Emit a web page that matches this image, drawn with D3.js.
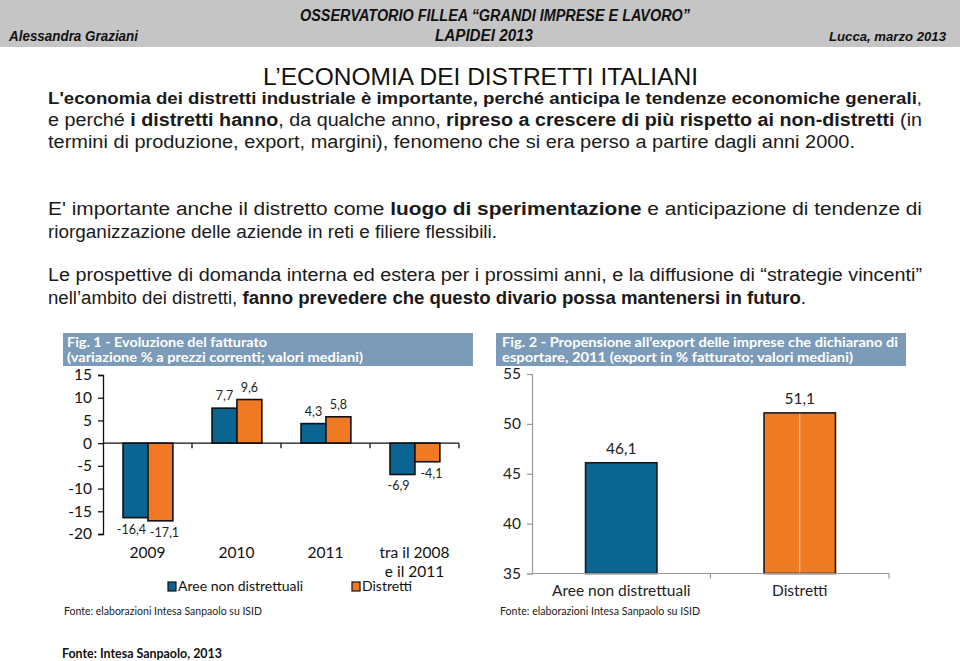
<!DOCTYPE html>
<html><head><meta charset="utf-8">
<script src="https://cdn.jsdelivr.net/npm/d3@7"></script>
<style>html,body{margin:0;padding:0;background:#fff;}svg{display:block;}</style>
</head><body>
<script>
// ---- data ----
const fig1Categories = ["2009", "2010", "2011", "tra il 2008|e il 2011"];
const fig1Series = ["Aree non distrettuali", "Distretti"];
const fig1NonDistretti = [-16.4, 7.7, 4.3, -6.9];
const fig1Distretti = [-17.1, 9.6, 5.8, -4.1];
const fig1Ticks = [15, 10, 5, 0, -5, -10, -15, -20];

const fig2Categories = ["Aree non distrettuali", "Distretti"];
const fig2Values = [46.1, 51.1];
const fig2Ticks = [55, 50, 45, 40, 35];

const W = 960, H = 661;
const BLUE = "#0b6592", ORANGE = "#f07a24", BAND = "#7c9bb8";
const fmt = v => v.toFixed(1).replace(".", ",");

const svg = d3.select("body").append("svg").attr("width", W).attr("height", H);

// ---- header ----
svg.append("rect").attr("x", 0).attr("y", 0).attr("width", W).attr("height", 47).attr("fill", "#c5c5c5");
const hdrFont = "'Liberation Sans Narrow','Liberation Sans',Arial,sans-serif";
function htext(txt, x, y, len, size, anchor) {
  svg.append("text").attr("x", x).attr("y", y).attr("text-anchor", anchor || "start")
    .attr("font-family", hdrFont).attr("font-weight", "bold").attr("font-style", "italic")
    .attr("font-size", size).attr("fill", "#111")
    .attr("textLength", len).attr("lengthAdjust", "spacingAndGlyphs").text(txt);
}
htext("OSSERVATORIO FILLEA \u201cGRANDI IMPRESE E LAVORO\u201d", 300, 21, 390, 16);
htext("LAPIDEI 2013", 435, 41, 98, 16);
htext("Alessandra Graziani", 9, 41, 129, 14);
htext("Lucca, marzo 2013", 946, 41, 117, 13, "end");

// ---- title & paragraphs ----
svg.append("text").attr("x", 263).attr("y", 85).attr("font-family", hdrFont).attr("font-size", 24)
  .attr("fill", "#111").attr("textLength", 435).attr("lengthAdjust", "spacingAndGlyphs")
  .text("L\u2019ECONOMIA DEI DISTRETTI ITALIANI");

const paraLines = [
  {y: 104, len: 874, parts: [["L'economia dei distretti industriale è importante, perché anticipa le tendenze economiche generali", 1], [",", 0]]},
  {y: 126, len: 874, parts: [["e perché ", 0], ["i distretti hanno", 1], [", da qualche anno, ", 0], ["ripreso a crescere  di più rispetto ai non-distretti", 1], [" (in", 0]]},
  {y: 148, len: 807, parts: [["termini di produzione, export, margini), fenomeno che si era perso a partire dagli anni 2000.", 0]]},
  {y: 215, len: 874, parts: [["E' importante anche il distretto come ", 0], ["luogo di sperimentazione", 1], [" e anticipazione di tendenze di", 0]]},
  {y: 238, len: 449, parts: [["riorganizzazione delle aziende in reti e filiere flessibili.", 0]]},
  {y: 281, len: 874, parts: [["Le prospettive di domanda interna ed estera per i prossimi anni, e la diffusione di \u201cstrategie vincenti\u201d", 0]]},
  {y: 304, len: 758, parts: [["nell\u2019ambito dei distretti, ", 0], ["fanno prevedere  che questo divario possa mantenersi in futuro", 1], [".", 0]]}
];
paraLines.forEach((l, i) => {
  const t = svg.append("text").attr("x", 48).attr("y", l.y).attr("font-family", hdrFont)
    .attr("font-size", i === 0 ? 16.5 : 18).attr("fill", "#1a1a1a")
    .attr("textLength", l.len).attr("lengthAdjust", "spacingAndGlyphs");
  l.parts.forEach(p => t.append("tspan").attr("font-weight", p[1] ? "bold" : "normal").text(p[0]));
});

// ---- chart fonts ----
const cFont = "Lato,'Open Sans',sans-serif";

function titleBand(x, y, w, h, lines) {
  svg.append("rect").attr("x", x).attr("y", y).attr("width", w).attr("height", h).attr("fill", BAND);
  lines.forEach((l, i) => {
    svg.append("text").attr("x", x + l.dx).attr("y", y + 13.5 + i * 15.5).attr("font-family", cFont)
      .attr("font-weight", "bold").attr("font-size", 13).attr("fill", "#fff")
      .attr("textLength", l.len).attr("lengthAdjust", "spacingAndGlyphs").text(l.t);
  });
}

// ================= Fig. 1 =================
titleBand(63, 333, 410, 33, [
  {t: "Fig. 1 - Evoluzione del fatturato", dx: 4, len: 200},
  {t: "(variazione % a prezzi correnti; valori mediani)", dx: 4, len: 296}
]);

const y1 = d3.scaleLinear().domain([-20, 15]).range([534, 375]);
const x0 = d3.scaleBand().domain(fig1Categories).range([103, 459]).padding(0);
const x1 = d3.scaleBand().domain(fig1Series).range([x0.bandwidth() * 0.225, x0.bandwidth() * 0.785]);
const fig1Data = fig1Categories.map((c, i) => ({cat: c, vals: [fig1NonDistretti[i], fig1Distretti[i]]}));

const g1 = svg.append("g");
// y axis
const ax1 = g1.append("g").attr("transform", "translate(103,0)")
  .call(d3.axisLeft(y1).tickValues(fig1Ticks).tickSize(5).tickPadding(6).tickFormat(d => d));
ax1.selectAll("path,line").attr("stroke", "#111").attr("stroke-width", 1.3);
ax1.selectAll("text").attr("font-family", cFont).attr("font-size", 15.5).attr("fill", "#111");

// bars
const cols = [BLUE, ORANGE];
fig1Data.forEach(d => {
  d.vals.forEach((v, j) => {
    const bx = x0(d.cat) + x1(fig1Series[j]);
    g1.append("rect").attr("x", bx).attr("y", y1(Math.max(0, v)))
      .attr("width", x1.bandwidth()).attr("height", Math.abs(y1(v) - y1(0)))
      .attr("fill", cols[j]).attr("stroke", "#111").attr("stroke-width", 1.6);
    const shift = v < 0 ? (j === 0 ? -4 : 4) : 0;
    g1.append("text").attr("x", bx + x1.bandwidth() / 2 + shift)
      .attr("y", v >= 0 ? y1(v) - 8 : y1(v) + 16)
      .attr("text-anchor", "middle").attr("font-family", cFont).attr("font-size", 12.5).attr("fill", "#222")
      .text(fmt(v));
  });
});
// zero line with category ticks
g1.append("line").attr("x1", x0.range()[0]).attr("x2", x0.range()[1]).attr("y1", y1(0)).attr("y2", y1(0))
  .attr("stroke", "#111").attr("stroke-width", 1.3);
fig1Categories.forEach(c => {
  const tx = x0(c) + x0.step();
  g1.append("line").attr("x1", tx).attr("x2", tx).attr("y1", y1(0)).attr("y2", y1(0) + 5)
    .attr("stroke", "#111").attr("stroke-width", 1.3);
});
// category labels
fig1Categories.forEach(c => {
  c.split("|").forEach((s, k) => {
    g1.append("text").attr("x", x0(c) + x0.bandwidth() / 2).attr("y", 558 + k * 19)
      .attr("text-anchor", "middle").attr("font-family", cFont).attr("font-size", 15.5).attr("fill", "#111").text(s);
  });
});
// legend
const legX = [168, 352];
fig1Series.forEach((s, j) => {
  g1.append("rect").attr("x", legX[j]).attr("y", 582).attr("width", 8).attr("height", 9)
    .attr("fill", cols[j]).attr("stroke", "#111").attr("stroke-width", 1.2);
  g1.append("text").attr("x", legX[j] + 10).attr("y", 591).attr("font-family", cFont)
    .attr("font-size", 14).attr("fill", "#111").text(s);
});
g1.append("text").attr("x", 64).attr("y", 615).attr("font-family", cFont).attr("font-size", 11)
  .attr("fill", "#222").attr("textLength", 198).attr("lengthAdjust", "spacingAndGlyphs")
  .text("Fonte: elaborazioni Intesa Sanpaolo su ISID");

// ================= Fig. 2 =================
titleBand(496, 333, 410, 33, [
  {t: "Fig. 2 - Propensione all\u2019export delle imprese che dichiarano di", dx: 6, len: 396},
  {t: "esportare, 2011 (export in % fatturato; valori mediani)", dx: 6, len: 351}
]);

const y2 = d3.scaleLinear().domain([35, 55]).range([573.5, 374]);
const x2 = d3.scaleBand().domain(fig2Categories).range([532, 889]).paddingInner(0.6).paddingOuter(0.3);
const g2 = svg.append("g");
const ax2 = g2.append("g").attr("transform", "translate(532,0)")
  .call(d3.axisLeft(y2).tickValues(fig2Ticks).tickSize(5).tickPadding(6).tickFormat(d => d));
ax2.selectAll("path,line").attr("stroke", "#999").attr("stroke-width", 1.2);
ax2.selectAll("text").attr("font-family", cFont).attr("font-size", 15.5).attr("fill", "#222");

fig2Categories.forEach((c, i) => {
  const v = fig2Values[i];
  g2.append("rect").attr("x", x2(c)).attr("y", y2(v)).attr("width", x2.bandwidth())
    .attr("height", y2(35) - y2(v)).attr("fill", cols[i]).attr("stroke", "#1a1a1a").attr("stroke-width", 1.6);
  g2.append("text").attr("x", x2(c) + x2.bandwidth() / 2).attr("y", y2(v) - 9)
    .attr("text-anchor", "middle").attr("font-family", cFont).attr("font-size", 15.5).attr("fill", "#222").text(fmt(v));
  g2.append("text").attr("x", x2(c) + x2.bandwidth() / 2).attr("y", 596)
    .attr("text-anchor", "middle").attr("font-family", cFont).attr("font-size", 15.5).attr("fill", "#222").text(c);
});
// faint line in middle of orange bar
{
  const c = fig2Categories[1];
  const mx = x2(c) + x2.bandwidth() / 2;
  g2.append("line").attr("x1", mx).attr("x2", mx).attr("y1", y2(fig2Values[1]) + 1).attr("y2", y2(35) - 1)
    .attr("stroke", "#f8d2b4").attr("stroke-width", 1);
}
// x axis
g2.append("line").attr("x1", x2.range()[0]).attr("x2", x2.range()[1]).attr("y1", y2(35)).attr("y2", y2(35))
  .attr("stroke", "#999").attr("stroke-width", 1.2);
fig2Categories.forEach(c => {
  const tx = x2(c) + x2.bandwidth() / 2 + x2.step() / 2;
  g2.append("line").attr("x1", tx).attr("x2", tx).attr("y1", y2(35)).attr("y2", y2(35) + 5)
    .attr("stroke", "#999").attr("stroke-width", 1.2);
});
g2.append("text").attr("x", 500).attr("y", 615).attr("font-family", cFont).attr("font-size", 11)
  .attr("fill", "#222").attr("textLength", 200).attr("lengthAdjust", "spacingAndGlyphs")
  .text("Fonte: elaborazioni Intesa Sanpaolo su ISID");

// footer
svg.append("text").attr("x", 62).attr("y", 658).attr("font-family", cFont).attr("font-weight", "bold")
  .attr("font-size", 13).attr("fill", "#111").attr("textLength", 160).attr("lengthAdjust", "spacingAndGlyphs")
  .text("Fonte: Intesa Sanpaolo, 2013");
</script>
</body></html>
